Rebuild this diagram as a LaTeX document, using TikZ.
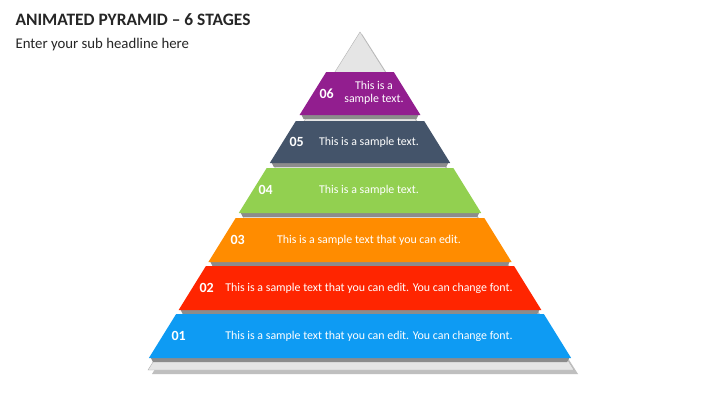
\documentclass[tikz,border=0pt]{standalone}
\usepackage{fontspec}
\setmainfont{Carlito}
\begin{document}
\begin{tikzpicture}[x=1pt,y=-1pt,
  num/.style={text=white,font=\bfseries\fontsize{14}{15}\selectfont,anchor=west},
  txt/.style={text=white,font=\fontsize{11.9}{13}\selectfont,align=center},
  band/.style={draw=none}]
\useasboundingbox (0,0) rectangle (720,405);
\fill[white] (0,0) rectangle (720,405);
\definecolor{c1}{HTML}{0E9BF3}\definecolor{c2}{HTML}{FF2500}\definecolor{c3}{HTML}{FF8C00}
\definecolor{c4}{HTML}{92D050}\definecolor{c5}{HTML}{44546A}\definecolor{c6}{HTML}{921E8F}
\node[anchor=west,font=\bfseries\fontsize{17.4}{18}\selectfont,text=black!85] (title) at (12,20) {ANIMATED PYRAMID – 6 STAGES};
\node[anchor=west,font=\fontsize{14.8}{16}\selectfont,text=black!85] (sub) at (12,45) {Enter your sub headline here};
% gray pyramid
\fill[black!25] (362,34) -- (152,374) -- (578,374) -- cycle;
\fill[black!10,draw=black!30] (360,32) -- (148,370) -- (574,370) -- cycle;
\foreach \t/\b/\c in {72/115/c6,121/163/c5,168/213/c4,218/262/c3,266/310/c2,314/358/c1}{
  \pgfmathsetmacro\lt{360-(0.62*(\t-32)+9)}\pgfmathsetmacro\rt{360+(0.62*(\t-32)+9)}
  \pgfmathsetmacro\lb{360-(0.62*(\b-32)+9)}\pgfmathsetmacro\rb{360+(0.62*(\b-32)+9)}
  \fill[black!45] (\lb+2,\b) -- (\rb-2,\b) -- (\rb-4,\b+4) -- (\lb+4,\b+4) -- cycle;
  \fill[\c] (\lt,\t) -- (\rt,\t) -- (\rb,\b) -- (\lb,\b) -- cycle;
}
\node[num] (n6) at (316,94) {06}; \node[txt] (t6) at (374,93) {This is a\\sample text.};
\node[num] (n5) at (286,142) {05}; \node[txt] (t5) at (369,142) {This is a sample text.};
\node[num] (n4) at (255,190) {04}; \node[txt] (t4) at (369,190) {This is a sample text.};
\node[num] (n3) at (227,240) {03}; \node[txt] (t3) at (369,240) {This is a sample text that you can edit.};
\node[num] (n2) at (196,288) {02}; \node[txt] (t2) at (369,288) {This is a sample text that you can edit. You can change font.};
\node[num] (n1) at (168,336) {01}; \node[txt] (t1) at (369,336) {This is a sample text that you can edit. You can change font.};
\end{tikzpicture}
\end{document}
